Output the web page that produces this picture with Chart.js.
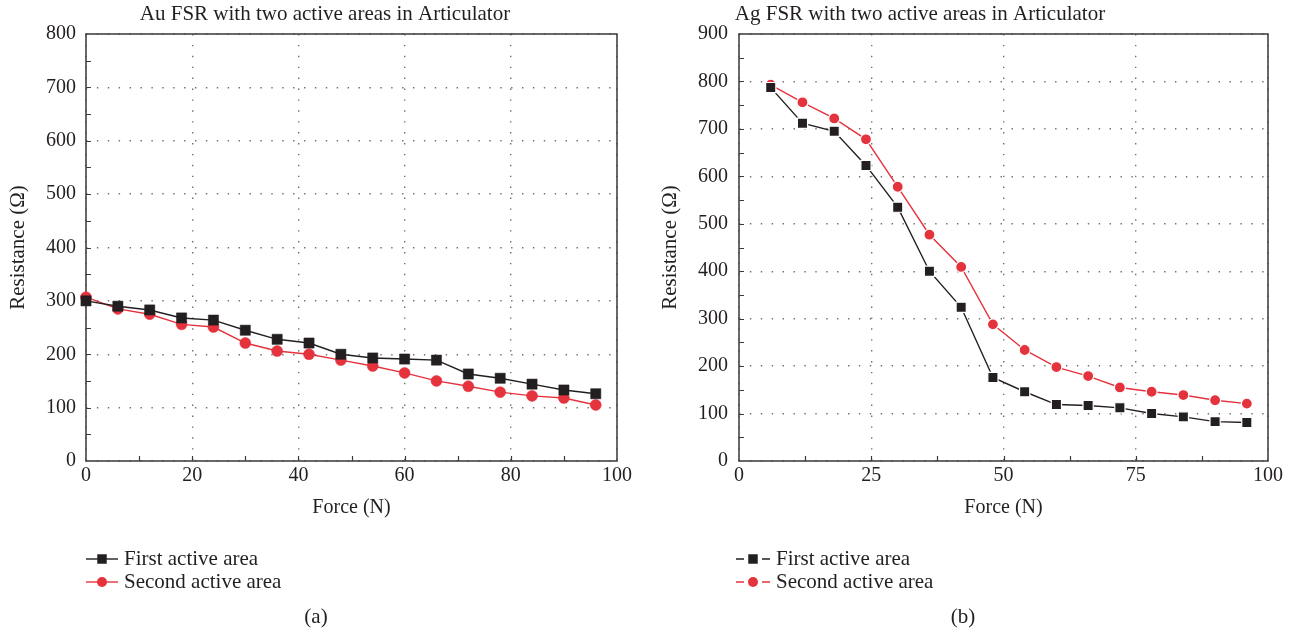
<!DOCTYPE html>
<html>
<head>
<meta charset="utf-8">
<title>FSR resistance vs force</title>
<script src="https://cdn.jsdelivr.net/npm/chart.js@4.4.1/dist/chart.umd.min.js"></script>
<style>
  html, body { margin: 0; padding: 0; background: #fff; }
  .panel { position: absolute; top: 0; height: 635px; }
</style>
</head>
<body>
<div class="panel" style="left:0;width:648px"><canvas id="chart_au"></canvas></div>
<div class="panel" style="left:648px;width:649px"><canvas id="chart_ag"></canvas></div>
<script>
// (a) Au FSR
const forceAu = [0, 6, 12, 18, 24, 30, 36, 42, 48, 54, 60, 66, 72, 78, 84, 90, 96];
const auFirst = [300, 290, 283, 268, 264, 245, 228, 221, 200, 193, 191, 189, 163, 155, 144, 133, 126];
const auSecond = [307, 285, 275, 256, 251, 221, 206, 200, 189, 178, 165, 150, 140, 129, 122, 118, 105];

// (b) Ag FSR
const forceAg = [6, 12, 18, 24, 30, 36, 42, 48, 54, 60, 66, 72, 78, 84, 90, 96];
const agFirst = [787, 712, 695, 623, 535, 400, 324, 176, 146, 119, 117, 112, 100, 93, 83, 81];
const agSecond = [793, 756, 722, 678, 578, 477, 409, 288, 234, 198, 179, 155, 146, 139, 128, 121];

const seriesNames = ["First active area", "Second active area"];
const titles = ["Au FSR with two active areas in Articulator", "Ag FSR with two active areas in Articulator"];

const INK = "#231f20";
const RED = "#e4333c";
const FONT = "'Liberation Serif', 'Times New Roman', serif";

Chart.defaults.font.family = FONT;
Chart.defaults.color = INK;

function toPoints(xs, ys) {
    return xs.map((x, i) => ({ x: x, y: ys[i] }));
}

// frame, inward ticks, title, legend and caption
const decor = {
    id: "decor",
    beforeDatasetsDraw(chart, args, opts) {
        const { ctx, chartArea: a, scales: { x, y } } = chart;
        ctx.save();
        ctx.strokeStyle = "#3a3a3a";
        ctx.lineWidth = 1.2;
        ctx.beginPath();
        for (let v = x.min + opts.minorX; v < x.max; v += opts.minorX) {
            const px = Math.round(x.getPixelForValue(v)) + 0.5;
            ctx.moveTo(px, a.bottom);
            ctx.lineTo(px, a.bottom - 5);
        }
        for (let v = y.min + opts.minorY; v < y.max; v += opts.minorY) {
            const py = Math.round(y.getPixelForValue(v)) + 0.5;
            ctx.moveTo(a.left, py);
            ctx.lineTo(a.left + 5, py);
        }
        ctx.stroke();
        ctx.lineWidth = 1.6;
        ctx.strokeStyle = "#444";
        ctx.strokeRect(a.left, a.top, a.right - a.left, a.bottom - a.top);
        ctx.restore();
    },
    afterDraw(chart, args, opts) {
        const ctx = chart.ctx;
        ctx.save();
        ctx.fillStyle = INK;
        ctx.textBaseline = "middle";
        ctx.font = "21px " + FONT;
        ctx.textAlign = "center";
        ctx.fillText(opts.title, opts.titleX, 14);
        ctx.fillText(opts.caption, opts.captionX, 617);

        ctx.textAlign = "left";
        chart.data.datasets.forEach((ds, i) => {
            const cy = opts.legendY + i * 23;
            const x0 = opts.legendX;
            ctx.strokeStyle = ds.borderColor;
            ctx.lineWidth = 1.4;
            ctx.beginPath();
            if (opts.dashed) {
                ctx.moveTo(x0, cy); ctx.lineTo(x0 + 8, cy);
                ctx.moveTo(x0 + 26, cy); ctx.lineTo(x0 + 34, cy);
            } else {
                ctx.moveTo(x0, cy); ctx.lineTo(x0 + 32, cy);
            }
            ctx.stroke();
            ctx.fillStyle = ds.backgroundColor;
            ctx.strokeStyle = ds.backgroundColor;
            Chart.helpers.drawPoint(ctx, { pointStyle: ds.pointStyle, radius: ds.pointRadius - 0.5, rotation: 0, borderWidth: 0 }, x0 + (opts.dashed ? 17 : 16), cy);
            ctx.fillStyle = INK;
            ctx.fillText(ds.label, x0 + (opts.dashed ? 40 : 38), cy);
        });
        ctx.restore();
    }
};

function makeChart(id, xs, first, second, cfg) {
    const ctx = document.getElementById(id);
    const datasets = [
        {
            label: seriesNames[0],
            data: toPoints(xs, first),
            borderColor: INK,
            backgroundColor: INK,
            pointStyle: "rect",
            pointRadius: 7.2,
            pointBorderColor: cfg.pointEdge || INK,
            pointBorderWidth: cfg.pointEdge ? 1.2 : 0.5,
            borderWidth: 1.4,
            clip: false
        },
        {
            label: seriesNames[1],
            data: toPoints(xs, second),
            borderColor: RED,
            backgroundColor: RED,
            pointStyle: "circle",
            pointRadius: 5.5,
            pointBorderColor: cfg.pointEdge || RED,
            pointBorderWidth: cfg.pointEdge ? 1.2 : 0.5,
            borderWidth: 1.4,
            clip: false
        }
    ];
    const gridOpts = {
        color: "#707070",
        lineWidth: 1.4,
        drawTicks: false
    };
    const borderOpts = { display: false, dash: [1.4, 9.5] };
    return new Chart(ctx, {
        type: "line",
        data: { datasets: datasets },
        options: {
            responsive: true,
            maintainAspectRatio: false,
            animation: false,
            events: [],
            layout: { padding: { top: 34, left: 0, right: cfg.padRight, bottom: 114 } },
            scales: {
                x: {
                    type: "linear",
                    min: 0,
                    max: 100,
                    ticks: { stepSize: cfg.stepX, padding: 3, font: { size: 20, lineHeight: "24px" }, color: INK },
                    grid: gridOpts,
                    border: borderOpts,
                    title: { display: true, text: "Force (N)", font: { size: 20, lineHeight: "24px" }, padding: { top: 0, bottom: 1 }, color: INK },
                    afterFit: (s) => { s.height = 60; }
                },
                y: {
                    min: 0,
                    max: cfg.maxY,
                    ticks: { stepSize: 100, padding: cfg.yTickPad, font: { size: 20, lineHeight: "24px" }, color: INK },
                    grid: gridOpts,
                    border: borderOpts,
                    title: { display: true, text: "Resistance (Ω)", font: { size: 21, lineHeight: "24px" }, padding: { top: cfg.yTitlePad, bottom: 0 }, color: INK },
                    afterFit: (s) => { s.width = cfg.yWidth; }
                }
            },
            plugins: {
                legend: { display: false },
                tooltip: { enabled: false },
                decor: {
                    title: cfg.title,
                    titleX: cfg.titleX,
                    caption: cfg.caption,
                    captionX: cfg.captionX,
                    minorX: cfg.stepX / 2,
                    minorY: 50,
                    legendX: cfg.legendX,
                    legendY: 559,
                    dashed: cfg.dashed
                }
            }
        },
        plugins: [decor]
    });
}

makeChart("chart_au", forceAu, auFirst, auSecond, {
    title: titles[0], titleX: 325, caption: "(a)", captionX: 316,
    stepX: 20, maxY: 800, padRight: 31, yWidth: 86, yTickPad: 10, yTitlePad: 6,
    legendX: 86, dashed: false
});

makeChart("chart_ag", forceAg, agFirst, agSecond, {
    title: titles[1], titleX: 272, caption: "(b)", captionX: 315,
    stepX: 25, maxY: 900, padRight: 29, yWidth: 91, yTickPad: 11, yTitlePad: 10,
    legendX: 88, dashed: true, pointEdge: "#ffffff"
});
</script>
</body>
</html>
